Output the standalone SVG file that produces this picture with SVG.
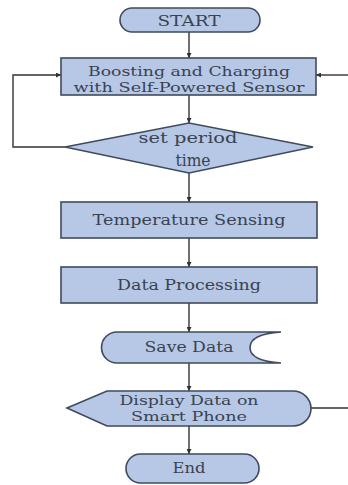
<svg xmlns="http://www.w3.org/2000/svg" width="348" height="485" viewBox="0 0 348 485">
<style>
.s{fill:#b7c8e6;stroke:#3f4a5c;stroke-width:1.6}
.t{font-family:"DejaVu Serif","Liberation Serif",serif;font-size:13.5px;fill:#3a4250;text-anchor:middle}
.b{font-size:15px}
.c{fill:none;stroke:#333;stroke-width:1.4}
</style>
<defs>
<marker id="a" viewBox="0 0 6 6" refX="6" refY="3" markerWidth="5" markerHeight="5" orient="auto" markerUnits="userSpaceOnUse">
<path d="M0,0 L6,3 L0,6 z" fill="#333"/>
</marker>
</defs>
<rect width="348" height="485" fill="#fff"/>
<g id="connectors">
<line class="c" x1="189" y1="32" x2="189" y2="58" marker-end="url(#a)"/>
<line class="c" x1="189" y1="95" x2="189" y2="123" marker-end="url(#a)"/>
<line class="c" x1="189" y1="173" x2="189" y2="202" marker-end="url(#a)"/>
<line class="c" x1="189" y1="238" x2="189" y2="267" marker-end="url(#a)"/>
<line class="c" x1="189" y1="303" x2="189" y2="332" marker-end="url(#a)"/>
<line class="c" x1="189" y1="363" x2="189" y2="391" marker-end="url(#a)"/>
<line class="c" x1="189" y1="426" x2="189" y2="454" marker-end="url(#a)"/>
<polyline class="c" points="65,147 13,147 13,75 61,75" marker-end="url(#a)"/>
<line class="c" x1="348" y1="75" x2="316" y2="75" marker-end="url(#a)"/>
<line class="c" x1="311" y1="408" x2="348" y2="408"/>
</g>
<g id="start">
<rect class="s" x="120" y="8" width="140" height="24" rx="12"/>
<text class="t b" x="189" y="26" textLength="63" lengthAdjust="spacingAndGlyphs">START</text>
</g>
<g id="boost">
<rect class="s" x="61" y="58" width="255" height="37"/>
<text class="t" x="189" y="76" textLength="202" lengthAdjust="spacingAndGlyphs">Boosting and Charging</text>
<text class="t" x="189" y="92" textLength="231" lengthAdjust="spacingAndGlyphs">with Self-Powered Sensor</text>
</g>
<g id="period">
<polygon class="s" points="65,147 189,123 313,147 189,173"/>
<text class="t b" x="188" y="143" textLength="99" lengthAdjust="spacingAndGlyphs">set period</text>
<text class="t" style="font-size:17px" x="193" y="166" textLength="35" lengthAdjust="spacingAndGlyphs">time</text>
</g>
<g id="temp">
<rect class="s" x="61" y="202" width="256" height="36"/>
<text class="t b" x="189" y="225" textLength="193" lengthAdjust="spacingAndGlyphs">Temperature Sensing</text>
</g>
<g id="proc">
<rect class="s" x="61" y="267" width="256" height="36"/>
<text class="t b" x="189" y="290" textLength="144" lengthAdjust="spacingAndGlyphs">Data Processing</text>
</g>
<g id="save">
<path class="s" d="M117,332 L281,332 Q250,334 250,347.5 Q250,361 281,363 L117,363 A15.5,15.5 0 0 1 117,332 z"/>
<text class="t b" x="189" y="352" textLength="89" lengthAdjust="spacingAndGlyphs">Save Data</text>
</g>
<g id="display">
<path class="s" d="M67,408 L107,391 L293,391 A18,17.5 0 0 1 293,426 L107,426 z"/>
<text class="t" x="189" y="405" textLength="139" lengthAdjust="spacingAndGlyphs">Display Data on</text>
<text class="t" x="189" y="421" textLength="116" lengthAdjust="spacingAndGlyphs">Smart Phone</text>
</g>
<g id="end">
<rect class="s" x="126" y="454" width="133" height="29" rx="14.5"/>
<text class="t b" x="189" y="473" textLength="33" lengthAdjust="spacingAndGlyphs">End</text>
</g>
</svg>
